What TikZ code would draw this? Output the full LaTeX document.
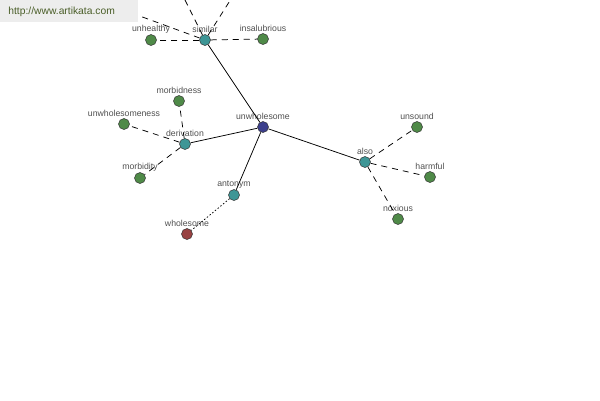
\documentclass[tikz,border=0pt]{standalone}
\usepackage{fontspec}
\setmainfont{Liberation Sans}
\definecolor{leafgreen}{HTML}{4F8A48}
\definecolor{linkteal}{HTML}{3E9696}
\definecolor{rootblue}{HTML}{3C3F8C}
\definecolor{antired}{HTML}{984242}
\definecolor{labelgray}{HTML}{505050}
\definecolor{urlgreen}{HTML}{4A5E28}
\begin{document}
\begin{tikzpicture}[x=1pt, y=-1pt, line width=0.75pt,
  main node/.style={circle, draw=black!80, line width=0.5pt, inner sep=0pt, minimum width=11pt,
    label distance=-1pt, label={[labelgray, inner sep=1pt, font=\fontsize{8.7}{9}\selectfont]above:#1}},
  leaf/.style={main node=#1, fill=leafgreen},
  link/.style={main node=#1, fill=linkteal},
  rel/.style={dash pattern=on 6pt off 5pt}]
\clip (0,0) rectangle (600,400);
\fill[white] (0,0) rectangle (600,400);
\node[main node=unwholesome, fill=rootblue](0) at (263,127) {};
\node[link=similar](1) at (205,40) {};
\node[link=derivation](2) at (185,144) {};
\node[link=antonym](3) at (234,195) {};
\node[link=also](4) at (365,162) {};
\node[leaf=unhealthy](5) at (151,40) {};
\node[leaf=insalubrious](6) at (263,39) {};
\node[circle, draw=black!80, fill=leafgreen, inner sep=0pt, minimum width=11pt](7) at (118,8) {};
\node[circle, draw=black!80, fill=leafgreen, inner sep=0pt, minimum width=11pt](8) at (178,-14) {};
\node[circle, draw=black!80, fill=leafgreen, inner sep=0pt, minimum width=11pt](9) at (238,-12) {};
\node[leaf=morbidness](10) at (179,101) {};
\node[leaf=unwholesomeness](11) at (124,124) {};
\node[leaf=morbidity](12) at (140,178) {};
\node[main node=wholesome, fill=antired](13) at (187,234) {};
\node[leaf=unsound](14) at (417,127) {};
\node[leaf=harmful](15) at (430,177) {};
\node[leaf=noxious](16) at (398,219) {};
\draw (0) -- (1);
\draw (0) -- (2);
\draw (0) -- (3);
\draw (0) -- (4);
\draw[rel] (1) -- (5);
\draw[rel] (1) -- (6);
\draw[rel] (1) -- (7);
\draw[rel] (1) -- (8);
\draw[rel] (1) -- (9);
\draw[rel] (2) -- (10);
\draw[rel] (2) -- (11);
\draw[rel] (2) -- (12);
\draw[dash pattern=on 1.5pt off 2pt] (3) -- (13);
\draw[rel] (4) -- (14);
\draw[rel] (4) -- (15);
\draw[rel] (4) -- (16);
% watermark
\fill[black!7] (0,0) rectangle (138,22);
\node[anchor=west, inner sep=0pt, urlgreen, font=\fontsize{10.3}{11}\selectfont](url) at (8,12) {http://www.artikata.com};
\end{tikzpicture}
\end{document}
